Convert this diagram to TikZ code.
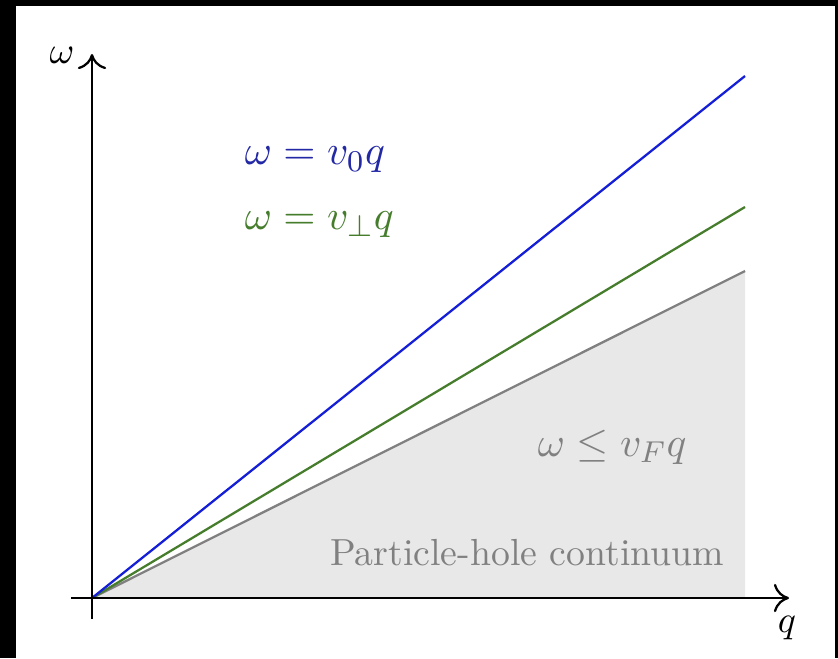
\documentclass[tikz,border=0pt]{standalone}
\usepackage{tikz}
\usetikzlibrary{arrows.meta,positioning}
\usepackage{amsmath,amssymb}

\definecolor{lineblue}{RGB}{20,30,215}
\definecolor{textblue}{RGB}{35,40,165}
\definecolor{linegreen}{RGB}{70,125,45}
\definecolor{phcgray}{RGB}{232,232,233}

\begin{document}
\begin{tikzpicture}[
    x=0.265pt, y=-0.265pt,
    every node/.style={font=\normalsize},
    axis/.style={-{To[length=4pt,width=7.5pt]}, semithick},
    dispersion/.style={semithick},
    label/.style={inner sep=0pt, anchor=west, font=\fontsize{11.2}{13}\selectfont}
]
% frame
\fill[black] (0,0) rectangle (838,658);
\fill[white] (16,6) rectangle (835,658);

\coordinate (O) at (92,598);
\coordinate (blueend) at (745,76);
\coordinate (greenend) at (745,207);
\coordinate (grayend) at (745,271);
\coordinate (corner) at (745,598);

% continuum
\fill[phcgray] (O) -- (grayend) -- (corner) -- cycle;
\draw[dispersion, gray] (O) -- (grayend);
\draw[dispersion, linegreen] (O) -- (greenend);
\draw[dispersion, lineblue] (O) -- (blueend);

% axes
\coordinate (xstart) at (71,598);
\coordinate (xtip) at (789,598);
\coordinate (ystart) at (92,619);
\coordinate (ytip) at (92,54);
\draw[axis] (xstart) -- (xtip);
\draw[axis] (ystart) -- (ytip);
\node[anchor=north] (qlab) at (787,603) {$q$};
\node (wlab) at (62,55) {$\omega$};

\node[label, textblue] (vzero) at (244,160) {$\omega = v_0 q$};
\node[label, linegreen] (vperp) at (244,225) {$\omega = v_\perp q$};
\node[label, gray] (vfermi) at (537,447) {$\omega \leq v_F q$};
\node[gray] (phc) at (527,553) {Particle-hole continuum};
\end{tikzpicture}
\end{document}
